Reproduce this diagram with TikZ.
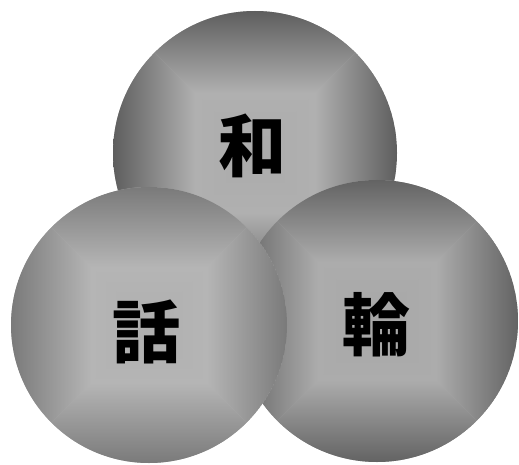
\documentclass[tikz,border=0pt]{standalone}
\usepackage{fontspec}
\newfontfamily\cjk{Noto Sans CJK JP Black}
\tikzset{
  kanji/.style={font=\cjk\fontsize{68}{68}\selectfont, text=black, inner sep=0pt}
}
% #1 name, #2 cx, #3 cy, #4 r, #5 center colour, #6 band colour, #7 edge colour
\newcommand{\boxball}[7]{%
  \begin{scope}
    \clip (#2,#3) circle (#4);
    \fill[#6] (#2,#3) circle (#4);
    \pgfmathsetmacro{\bk}{0.42*#4}
    \colorlet{midtone}{#6!78!#7}
    % outer trapezoids (band -> edge); page-y grows with coordinate y
    \shade[top color=#6, middle color=midtone, bottom color=#7] ({#2-#4},{#3+#4}) -- ({#2+#4},{#3+#4}) -- ({#2+\bk},{#3+\bk}) -- ({#2-\bk},{#3+\bk}) -- cycle;
    \shade[top color=#7, middle color=midtone, bottom color=#6] ({#2-#4},{#3-#4}) -- ({#2+#4},{#3-#4}) -- ({#2+\bk},{#3-\bk}) -- ({#2-\bk},{#3-\bk}) -- cycle;
    \shade[left color=#7, middle color=midtone, right color=#6] ({#2-#4},{#3-#4}) -- ({#2-#4},{#3+#4}) -- ({#2-\bk},{#3+\bk}) -- ({#2-\bk},{#3-\bk}) -- cycle;
    \shade[left color=#6, middle color=midtone, right color=#7] ({#2+#4},{#3-#4}) -- ({#2+#4},{#3+#4}) -- ({#2+\bk},{#3+\bk}) -- ({#2+\bk},{#3-\bk}) -- cycle;
    % inner triangles (center -> band)
    \shade[top color=#5, bottom color=#6] ({#2-\bk},{#3+\bk}) -- ({#2+\bk},{#3+\bk}) -- (#2,#3) -- cycle;
    \shade[top color=#6, bottom color=#5] ({#2-\bk},{#3-\bk}) -- ({#2+\bk},{#3-\bk}) -- (#2,#3) -- cycle;
    \shade[left color=#6, right color=#5] ({#2-\bk},{#3-\bk}) -- ({#2-\bk},{#3+\bk}) -- (#2,#3) -- cycle;
    \shade[left color=#5, right color=#6] ({#2+\bk},{#3-\bk}) -- ({#2+\bk},{#3+\bk}) -- (#2,#3) -- cycle;
  \end{scope}
  \coordinate (#1) at (#2,#3);
}
\definecolor{cA}{HTML}{ABABAB}
\definecolor{mA}{HTML}{B0B0B0}
\definecolor{eA}{HTML}{5E5E5E}
\definecolor{cB}{HTML}{AFAFAF}
\definecolor{mB}{HTML}{B5B5B5}
\definecolor{eB}{HTML}{7A7A7A}
\definecolor{cC}{HTML}{A7A7A7}
\definecolor{mC}{HTML}{ACACAC}
\definecolor{eC}{HTML}{636363}
\begin{document}
\begin{tikzpicture}[x=1pt,y=-1pt]
\useasboundingbox (0,0) rectangle (519,465);
\boxball{wa}{255}{153}{142}{cA}{mA}{eA}
\boxball{rin}{377}{321}{141}{cC}{mC}{eC}
\boxball{hanashi}{149}{325}{138}{cB}{mB}{eB}
\node[kanji] (twa) at (252,146) {和};
\node[kanji] (thanashi) at (146,332) {話};
\node[kanji] (trin) at (376,325) {輪};
\end{tikzpicture}
\end{document}
